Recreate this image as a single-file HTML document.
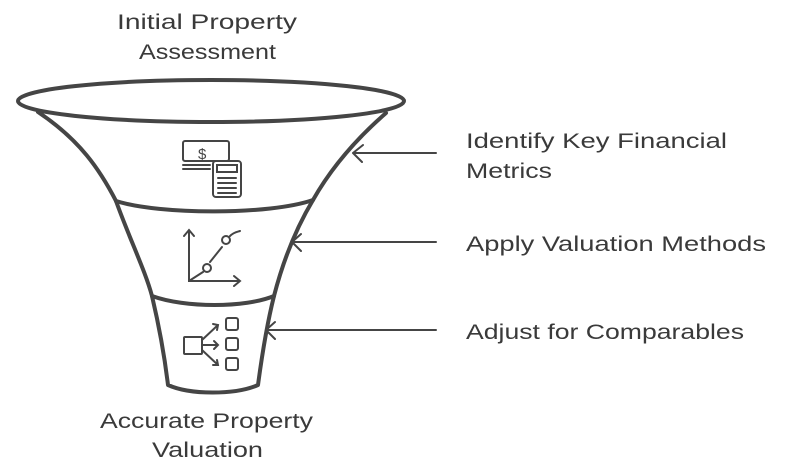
<!DOCTYPE html>
<html><head><style>
body{margin:0;background:#fff;}
svg{display:block}
text{font-family:"Liberation Sans",sans-serif;font-size:21px;fill:#3a3a3a;}
</style></head><body>
<svg width="790" height="471" viewBox="0 0 790 471" xmlns="http://www.w3.org/2000/svg">
<g fill="none" stroke="#454545" stroke-width="4" stroke-linecap="round" stroke-linejoin="round">
<ellipse cx="211" cy="101" rx="193" ry="21"/>
<path d="M38 112 C80 140 100 170 116 201 C130 240 145 270 152 296 C160 330 165 360 168 385 C190 395 235 395 258 385 C262 355 268 320 274 296 C282 265 295 230 313 200 C330 170 355 140 386 113"/>
<path d="M116 201 C160 215 270 215 313 200"/>
<path d="M152 296 C185 308 245 308 274 296"/>
</g>
<g fill="none" stroke="#454545" stroke-width="2" stroke-linecap="round">
<path d="M353 153 L436 153 M353 153 L363 145 M353 153 L362 162"/>
<path d="M292 242 L436 242 M292 242 L301 234 M292 242 L301 251"/>
<path d="M266 330 L436 330 M266 330 L275 322 M266 330 L275 339"/>
<rect x="183" y="141" width="46" height="20" rx="2"/>
<path d="M183 165 H210 M183 169 H210"/>
<rect x="213" y="161" width="28" height="36" rx="3"/>
<rect x="217" y="165" width="20" height="7"/>
<path d="M218 178 H236 M218 183 H236 M218 188 H236 M218 193 H236"/>
<text x="198" y="159" style="font-size:15px;fill:#454545;stroke:none">$</text>
<path d="M189 230 L189 281 L240 281 M184 236 L189 230 L194 236 M234 276 L240 281 L234 286"/>
<path d="M189 281 L203 272 M210 262 L222 247"/>
<circle cx="207" cy="268" r="4"/><circle cx="226" cy="240" r="4"/>
<path d="M230 236 C234 232 237 232 240 231"/>
<rect x="184" y="337" width="18" height="17" rx="1"/>
<rect x="226" y="318" width="12" height="12" rx="2"/>
<rect x="226" y="338" width="12" height="12" rx="2"/>
<rect x="226" y="358" width="12" height="12" rx="2"/>
<path d="M202 340 L218 325 M202 345 L218 345 M202 350 L218 365 M213 324 L218 325 L217 330 M214 341 L218 345 L214 349 M213 365 L218 365 L217 360"/>
</g>
<text x="117" y="29" textLength="180" lengthAdjust="spacingAndGlyphs">Initial Property</text>
<text x="139" y="59" textLength="137" lengthAdjust="spacingAndGlyphs">Assessment</text>
<text x="466" y="148" textLength="261" lengthAdjust="spacingAndGlyphs">Identify Key Financial</text>
<text x="466" y="178" textLength="86" lengthAdjust="spacingAndGlyphs">Metrics</text>
<text x="466" y="251" textLength="300" lengthAdjust="spacingAndGlyphs">Apply Valuation Methods</text>
<text x="466" y="339" textLength="278" lengthAdjust="spacingAndGlyphs">Adjust for Comparables</text>
<text x="100" y="428" textLength="213" lengthAdjust="spacingAndGlyphs">Accurate Property</text>
<text x="152" y="457" textLength="111" lengthAdjust="spacingAndGlyphs">Valuation</text>
</svg>
</body></html>
